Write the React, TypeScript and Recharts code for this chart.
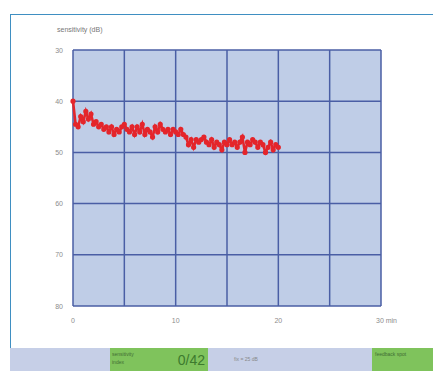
import React from "react";
import { LineChart, Line, XAxis, YAxis, CartesianGrid } from "recharts";

// sensitivity readings (dB), one every 0.25 min
const sensitivity = [
  40, 44.5, 45, 43, 44, 42, 43.5, 42.5, 44.5,
  44, 45, 44.5, 45.5, 45, 46, 45, 46.5,
  45.5, 46, 45, 44.5, 45.5, 46, 45, 46.5,
  45, 46, 44.5, 46.5, 45.5, 46, 47, 45,
  46, 44.5, 45.5, 46, 45.5, 46.5, 45.5, 46,
  46.5, 45.5, 46.5, 47, 48.5, 47.5, 49, 47.5,
  48, 47.5, 47, 48, 48.5, 47.5, 49, 48,
  48.5, 49.5, 48, 48.5, 47.5, 48.5, 48, 49,
  48, 47, 50, 48, 48.5, 47.5, 48, 49,
  48, 48.5, 50, 49, 48, 49.5, 48.5, 49,
];
const step = 0.25;
const xTicks = [0, 5, 10, 15, 20, 25, 30];
const xLabels = ["0", "", "10", "", "20", "", "30"];
const yTicks = [30, 40, 50, 60, 70, 80];

const data = sensitivity.map((v, i) => ({ t: i * step, v }));

const font = "'Liberation Sans', Arial, sans-serif";
const red = "#e4252b";
const grid = "#4a5ea5";
const tickColor = "#8c8c8c";

function XTick(props: any) {
  const { x, y, payload } = props;
  const idx = xTicks.indexOf(payload.value);
  const label = xLabels[idx];
  if (!label) return null;
  const last = payload.value === 30;
  return (
    <text
      x={last ? x - 5 : x}
      y={y + 9}
      textAnchor={last ? "start" : "middle"}
      fontSize={7}
      fill={tickColor}
      fontFamily={font}
    >
      {last ? "30 min" : label}
    </text>
  );
}

function YTick(props: any) {
  const { x, y, payload } = props;
  return (
    <text
      x={x - 2}
      y={y + 2.5}
      textAnchor="end"
      fontSize={7}
      fill={tickColor}
      fontFamily={font}
    >
      {payload.value}
    </text>
  );
}

export default function App() {
  return (
    <div
      style={{
        position: "absolute",
        left: 0,
        top: 0,
        width: 433,
        height: 371,
        background: "#fff",
        overflow: "hidden",
        fontFamily: font,
      }}
    >
      <div
        style={{
          position: "absolute",
          left: 10,
          top: 14,
          width: 440,
          height: 340,
          border: "1.5px solid #3f8fc2",
          boxSizing: "border-box",
        }}
      />
      <div
        style={{
          position: "absolute",
          left: 57,
          top: 26,
          fontSize: 7,
          color: "#777",
        }}
      >
        sensitivity (dB)
      </div>
      <div style={{ position: "absolute", left: 0, top: 0 }}>
        <LineChart
          width={433}
          height={371}
          data={data}
          margin={{ top: 50, right: 52, left: 53, bottom: 45 }}
        >
          <CartesianGrid
            stroke={grid}
            strokeWidth={1.5}
            fill="#bfcde7"
            fillOpacity={1}
          />
          <XAxis
            dataKey="t"
            type="number"
            domain={[0, 30]}
            ticks={xTicks}
            axisLine={false}
            tickLine={false}
            height={20}
            tick={<XTick />}
          />
          <YAxis
            type="number"
            domain={[30, 80]}
            ticks={yTicks}
            reversed
            axisLine={false}
            tickLine={false}
            width={20}
            tick={<YTick />}
          />
          <Line
            dataKey="v"
            stroke={red}
            strokeWidth={2.6}
            dot={{ r: 1.3, fill: red, stroke: red }}
            isAnimationActive={false}
          />
        </LineChart>
      </div>
      <div
        style={{
          position: "absolute",
          left: 10,
          top: 348,
          width: 423,
          height: 23,
          background: "#c6cfe7",
        }}
      />
      <div
        style={{
          position: "absolute",
          left: 110,
          top: 348,
          width: 98,
          height: 23,
          background: "#7fc35c",
        }}
      >
        <div style={{ position: "absolute", left: 2, top: 2, fontSize: 5, color: "#3f6e33", lineHeight: "8px" }}>
          sensitivity
          <br />
          index
        </div>
        <div style={{ position: "absolute", right: 3, top: 4, fontSize: 14, color: "#3d7a2e" }}>0/42</div>
      </div>
      <div style={{ position: "absolute", left: 234, top: 356, fontSize: 5, color: "#888" }}>fix = 25 dB</div>
      <div
        style={{
          position: "absolute",
          left: 372,
          top: 348,
          width: 61,
          height: 23,
          background: "#7fc35c",
        }}
      >
        <div style={{ position: "absolute", left: 3, top: 3, fontSize: 5, color: "#3f6e33" }}>feedback spot</div>
      </div>
    </div>
  );
}
